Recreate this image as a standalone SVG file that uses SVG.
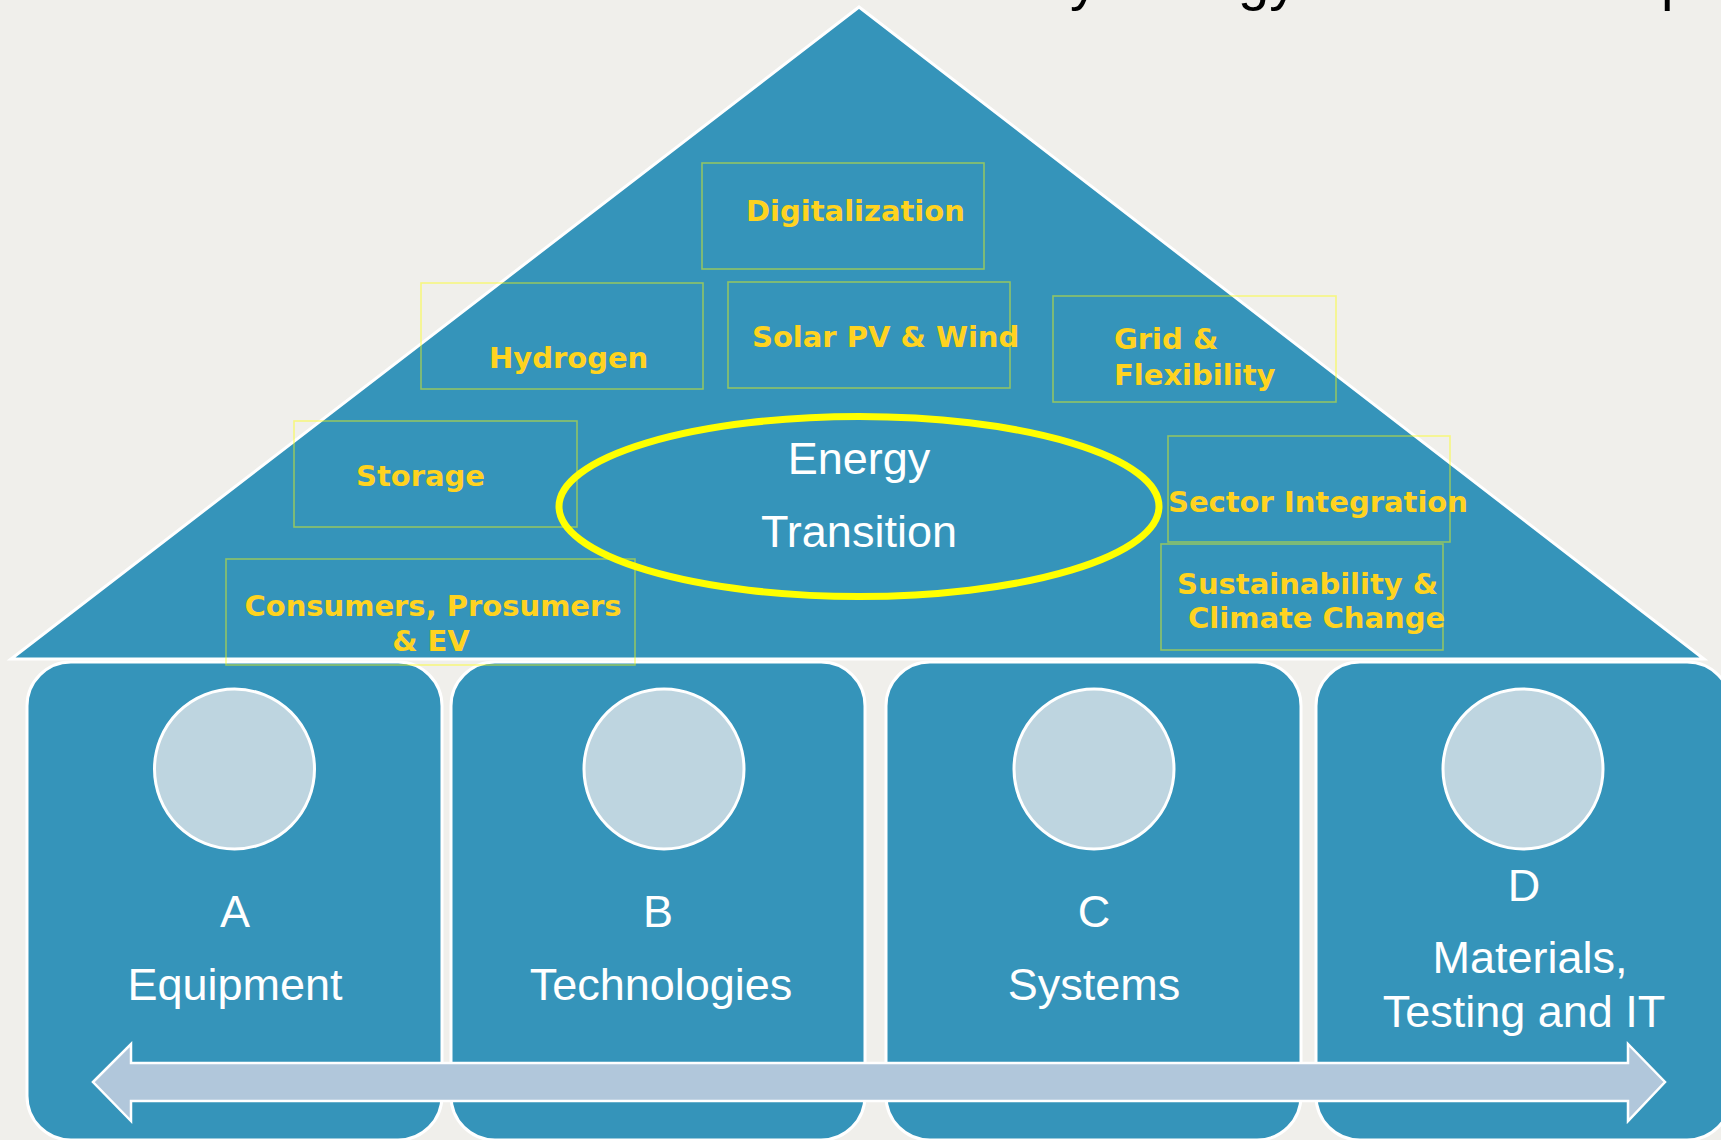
<svg xmlns="http://www.w3.org/2000/svg" width="1721" height="1140" viewBox="0 0 1721 1140">
<style>
.bg{fill:#F0EFEB}
.blue{fill:#3594BA;stroke:#FFFFFF;stroke-width:3}
.disc{fill:#BED5E0;stroke:#FFFFFF;stroke-width:3}
.box{fill:none;stroke:#FFFF00;stroke-opacity:0.45;stroke-width:1.6}
.lbl{font-family:"DejaVu Sans","Verdana",sans-serif;font-weight:bold;font-size:29px;fill:#FFD320}
.wt{font-family:"Liberation Sans",Arial,sans-serif;font-size:45px;fill:#FFFFFF}
.ttl{font-family:"Liberation Sans",Arial,sans-serif;font-size:56px;fill:#000000}
</style>
<rect class="bg" x="0" y="0" width="1721" height="1140"/>

<g id="title-fragment">
<text class="ttl" x="1070" y="-1">y</text>
<text class="ttl" x="1238" y="-1">gy</text>
<text class="ttl" x="1661" y="-1">p</text>
</g>

<g id="roof">
<polygon class="blue" points="859,7 11,659 1704,659"/>
</g>

<g id="card-a">
<rect class="blue" x="27" y="662" width="415" height="478" rx="44" ry="44"/>
<circle class="disc" cx="234.5" cy="769" r="80"/>
<text class="wt" x="235" y="927" text-anchor="middle">A</text>
<text class="wt" x="235" y="1000" text-anchor="middle">Equipment</text>
</g>
<g id="card-b">
<rect class="blue" x="451" y="662" width="414" height="478" rx="44" ry="44"/>
<circle class="disc" cx="664" cy="769" r="80"/>
<text class="wt" x="658" y="927" text-anchor="middle">B</text>
<text class="wt" x="661" y="1000" text-anchor="middle">Technologies</text>
</g>
<g id="card-c">
<rect class="blue" x="886" y="662" width="415" height="478" rx="44" ry="44"/>
<circle class="disc" cx="1094" cy="769" r="80"/>
<text class="wt" x="1094" y="927" text-anchor="middle">C</text>
<text class="wt" x="1094" y="1000" text-anchor="middle">Systems</text>
</g>
<g id="card-d">
<rect class="blue" x="1316" y="662" width="415" height="478" rx="44" ry="44"/>
<circle class="disc" cx="1523" cy="769" r="80"/>
<text class="wt" x="1524" y="901" text-anchor="middle">D</text>
<text class="wt" x="1530" y="973" text-anchor="middle">Materials,</text>
<text class="wt" x="1524" y="1027" text-anchor="middle">Testing and IT</text>
</g>

<g id="connectors">
<polygon points="93,1082 131,1044 131,1063 1628,1063 1628,1044 1665,1082 1628,1121 1628,1101 131,1101 131,1121" fill="#B1C7DB" stroke="#FFFFFF" stroke-width="2.5" stroke-linejoin="miter"/>
</g>

<g id="energy-transition">
<ellipse cx="859" cy="506.5" rx="300" ry="90" fill="none" stroke="#FFFF00" stroke-width="7"/>
<text class="wt" x="859" y="474" text-anchor="middle">Energy</text>
<text class="wt" x="859" y="547" text-anchor="middle">Transition</text>
</g>

<g id="digitalization">
<rect class="box" x="702" y="163" width="282" height="106"/>
<text class="lbl" x="746" y="221">Digitalization</text>
</g>
<g id="hydrogen">
<rect class="box" x="421" y="283" width="282" height="106"/>
<text class="lbl" x="489" y="368">Hydrogen</text>
</g>
<g id="solar-wind">
<rect class="box" x="728" y="282" width="282" height="106"/>
<text class="lbl" x="752" y="347">Solar PV &amp; Wind</text>
</g>
<g id="grid-flexibility">
<rect class="box" x="1053" y="296" width="283" height="106"/>
<text class="lbl" x="1114" y="349">Grid &amp;</text>
<text class="lbl" x="1114" y="385">Flexibility</text>
</g>
<g id="storage">
<rect class="box" x="294" y="421" width="283" height="106"/>
<text class="lbl" x="356" y="486">Storage</text>
</g>
<g id="sector-integration">
<rect class="box" x="1168" y="436" width="282" height="106"/>
<text class="lbl" x="1168" y="512">Sector Integration</text>
</g>
<g id="sustainability">
<rect class="box" x="1161" y="544" width="282" height="106"/>
<text class="lbl" x="1177" y="594">Sustainability &amp;</text>
<text class="lbl" x="1188" y="628">Climate Change</text>
</g>
<g id="consumers">
<rect class="box" x="226" y="559" width="409" height="106"/>
<text class="lbl" x="433" y="616" text-anchor="middle">Consumers, Prosumers</text>
<text class="lbl" x="431" y="651" text-anchor="middle">&amp; EV</text>
</g>
</svg>
